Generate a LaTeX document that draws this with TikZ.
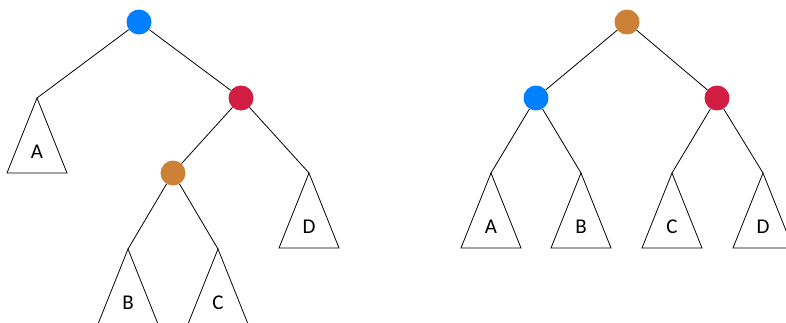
\documentclass[tikz,border=0pt]{standalone}
\usepackage{fontspec}
\setmainfont{Carlito}
\usetikzlibrary{calc}
\definecolor{nodeblue}{RGB}{0,128,255}
\definecolor{nodered}{RGB}{209,29,66}
\definecolor{nodeorange}{RGB}{204,129,54}
\begin{document}
\begin{tikzpicture}[x=1pt,y=-1pt,
  treenode/.style={circle,inner sep=0pt,minimum size=25pt},
  edge/.style={draw=black,line width=0.8pt},
  tri/.style={draw=black,line width=0.8pt,line join=miter},
  lbl/.style={font=\fontsize{21}{21}\selectfont,inner sep=0pt}]
\clip (0,0) rectangle (786,322);

% ---- tree before the rotation ----
\node[treenode,fill=nodeblue]   (la) at (139,22)  {};
\node[treenode,fill=nodered]    (lb) at (241,98)  {};
\node[treenode,fill=nodeorange] (lc) at (173,173) {};
\coordinate (lA) at (37,98);
\coordinate (lD) at (309,173);
\coordinate (lB) at (128,249);
\coordinate (lC) at (218,249);

\draw[edge] (la) -- (lA);
\draw[edge] (la) -- (lb);
\draw[edge] (lb) -- (lc);
\draw[edge] (lb) -- (lD);
\draw[edge] (lc) -- (lB);
\draw[edge] (lc) -- (lC);

\foreach \apex/\txt in {lA/A,lB/B,lC/C,lD/D}{
  \draw[tri] (\apex) -- ++(-30,75) -- ++(60,0) -- cycle;
  \node[lbl] (\apex-label) at ($(\apex)+(0,54)$) {\txt};
}

% ---- tree after the rotation ----
\node[treenode,fill=nodeorange] (rc) at (627,22) {};
\node[treenode,fill=nodeblue]   (ra) at (536,98) {};
\node[treenode,fill=nodered]    (rb) at (717,98) {};
\coordinate (rA) at (491,173);
\coordinate (rB) at (581,173);
\coordinate (rC) at (672,173);
\coordinate (rD) at (763,173);

\draw[edge] (rc) -- (ra);
\draw[edge] (rc) -- (rb);
\draw[edge] (ra) -- (rA);
\draw[edge] (ra) -- (rB);
\draw[edge] (rb) -- (rC);
\draw[edge] (rb) -- (rD);

\foreach \apex/\txt in {rA/A,rB/B,rC/C,rD/D}{
  \draw[tri] (\apex) -- ++(-30,75) -- ++(60,0) -- cycle;
  \node[lbl] (\apex-label) at ($(\apex)+(0,54)$) {\txt};
}
\end{tikzpicture}
\end{document}
